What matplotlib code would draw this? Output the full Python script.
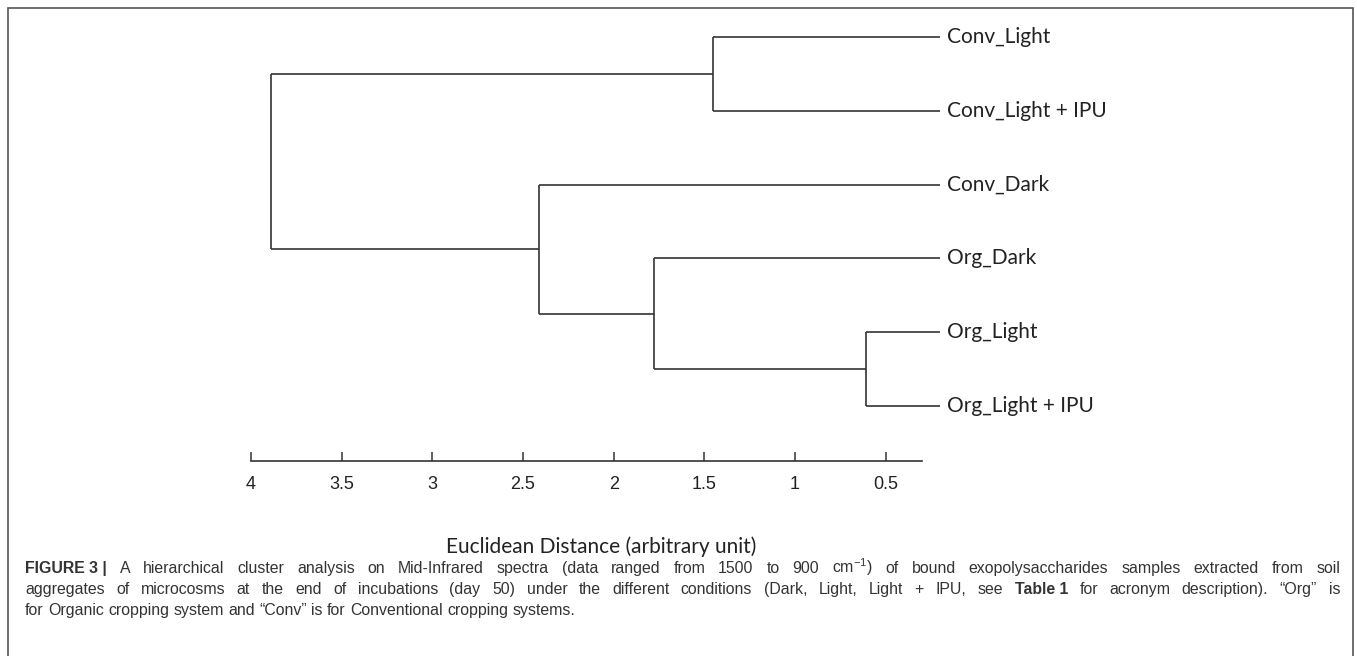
import matplotlib
matplotlib.use('Agg')
import matplotlib.pyplot as plt
from matplotlib.patches import Rectangle

plt.rcParams['mathtext.fontset'] = 'custom'
plt.rcParams['mathtext.rm'] = 'Liberation Sans'
plt.rcParams['mathtext.it'] = 'Liberation Sans:italic'
plt.rcParams['mathtext.bf'] = 'Liberation Sans:bold'

# dados
folhas = ['Conv_Light', 'Conv_Light + IPU', 'Conv_Dark', 'Org_Dark', 'Org_Light', 'Org_Light + IPU']
dist_folha = 0.2
# fusoes (no_a, no_b, distancia) -> novos nos numerados a partir de 6
fusoes = [(0, 1, 1.45), (4, 5, 0.61), (3, 7, 1.78), (2, 8, 2.41), (6, 9, 3.89)]
ticks = [4, 3.5, 3, 2.5, 2, 1.5, 1, 0.5]
tick_labels = ['4', '3.5', '3', '2.5', '2', '1.5', '1', '0.5']

W, H = 1357, 656
fig = plt.figure(figsize=(W / 100, H / 100), dpi=100)
cor = '#333333'

# eixo do dendrograma
ax = fig.add_axes([251 / W, 1 - 461 / H, 689 / W, 461 / H])
ax.set_xlim(4, dist_folha)
ax.set_ylim(5.745, -0.5)

pos = {i: i for i in range(len(folhas))}
alt = {i: dist_folha for i in range(len(folhas))}
novo = len(folhas)
for a, b, d in fusoes:
    for n in (a, b):
        ax.plot([alt[n], d], [pos[n], pos[n]], color=cor, lw=1.2, solid_capstyle='butt')
    ax.plot([d, d], [pos[a], pos[b]], color=cor, lw=1.2, solid_capstyle='butt')
    pos[novo] = (pos[a] + pos[b]) / 2
    alt[novo] = d
    novo += 1

for i, nome in enumerate(folhas):
    ax.annotate(nome, (dist_folha, i), xytext=(5, 0), textcoords='offset points',
                va='center', ha='left', fontsize=15, family='Lato', color='#222222')

for s in ['left', 'right', 'top']:
    ax.spines[s].set_visible(False)
ax.spines['bottom'].set_bounds(4, 0.3)
ax.spines['bottom'].set_color(cor)
ax.spines['bottom'].set_linewidth(1.2)
ax.set_yticks([])
ax.set_xticks(ticks)
ax.set_xticklabels(tick_labels, family='Liberation Sans', fontsize=13, color='#222222')
ax.tick_params(axis='x', direction='in', length=6.5, width=1.1, color=cor, pad=10.5)
ax.patch.set_visible(False)

fig.text(601 / W, 1 - 547 / H, 'Euclidean Distance (arbitrary unit)', ha='center', va='center',
         fontsize=15, family='Lato', color='#222222')

# moldura
fig.patches.append(Rectangle((8 / W, -0.1), (1353 - 8) / W, 1.1 - 8 / H, transform=fig.transFigure,
                             fill=False, edgecolor='#555555', lw=1.2))

# legenda da figura, justificada
linhas = [
    ([('FIGURE 3 |', 'bold')] +
     [(w, 'normal') for w in 'A hierarchical cluster analysis on Mid-Infrared spectra (data ranged from 1500 to 900 cm$^{-1}$) of bound exopolysaccharides samples extracted from soil'.split(' ')], True),
    ([(w, 'normal') for w in 'aggregates of microcosms at the end of incubations (day 50) under the different conditions (Dark, Light, Light + IPU, see'.split(' ')] +
     [('Table 1', 'bold')] +
     [(w, 'normal') for w in 'for acronym description). \u201cOrg\u201d is'.split(' ')], True),
    ([(w, 'normal') for w in 'for Organic cropping system and \u201cConv\u201d is for Conventional cropping systems.'.split(' ')], False),
]
x0, x1 = 25, 1340
baselines = [573, 594, 615]
rend = fig.canvas.get_renderer()
kw = dict(family='Liberation Sans', fontsize=11.4, color='#333333', va='baseline', ha='left')
t1 = fig.text(0, 0, 'aa', **kw)
t2 = fig.text(0, 0, 'a a', **kw)
espaco = t2.get_window_extent(rend).width - t1.get_window_extent(rend).width
t1.remove()
t2.remove()
for (palavras, just), yb in zip(linhas, baselines):
    textos = []
    for w, peso in palavras:
        t = fig.text(0, 1 - yb / H, w, fontweight=peso, **kw)
        textos.append((t, t.get_window_extent(rend).width))
    total = sum(l for _, l in textos)
    gap = (x1 - x0 - total) / (len(textos) - 1) if just else espaco
    x = x0
    for t, l in textos:
        t.set_x(x / W)
        x += l + gap

fig.savefig('out.png', dpi=100)
